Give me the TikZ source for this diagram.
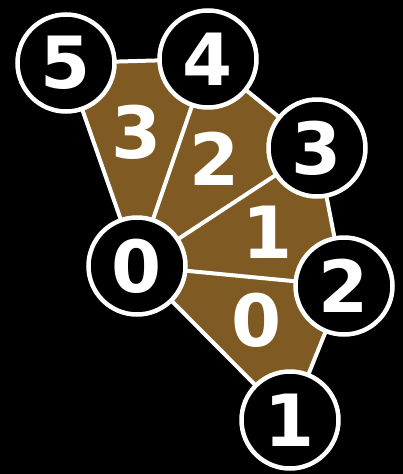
\documentclass[tikz,border=0pt]{standalone}
\usepackage{fontspec}
\newfontfamily\numfont{DejaVu Sans}
\definecolor{fanbrown}{HTML}{7F5A22}
\begin{document}
\begin{tikzpicture}[x=1pt,y=-1pt,
  vert/.style={circle,draw=white,line width=4.5pt,fill=black,minimum size=97pt,inner sep=0pt,text=white,font=\numfont\bfseries\fontsize{72}{72}\selectfont},
  tri/.style={text=white,font=\numfont\bfseries\fontsize{72}{72}\selectfont,inner sep=0pt},
  edge/.style={draw=white,line width=4pt}]
\fill[black] (0,0) rectangle (403,474);
\useasboundingbox (0,0) rectangle (403,474);
\coordinate (p0) at (137,266);
\coordinate (p1) at (290,420);
\coordinate (p2) at (344,286);
\coordinate (p3) at (317,148);
\coordinate (p4) at (208,59);
\coordinate (p5) at (66,63);
\fill[fanbrown] (p0) -- (p1) -- (p2) -- (p3) -- (p4) -- (p5) -- cycle;
\draw[edge,line join=round] (p0) -- (p1) -- (p2) -- (p3) -- (p4) -- (p5) -- cycle;
\draw[edge] (p0) -- (p2);
\draw[edge] (p0) -- (p3);
\draw[edge] (p0) -- (p4);
\node[tri] (t3) at (137,132) {3};
\node[tri] (t2) at (215,159) {2};
\node[tri] (t1) at (268,232) {1};
\node[tri] (t0) at (257,320) {0};
\node[vert] (v0) at (p0) {0};
\node[vert] (v1) at (p1) {1};
\node[vert] (v2) at (p2) {2};
\node[vert] (v3) at (p3) {3};
\node[vert] (v4) at (p4) {4};
\node[vert] (v5) at (p5) {5};
\end{tikzpicture}
\end{document}
